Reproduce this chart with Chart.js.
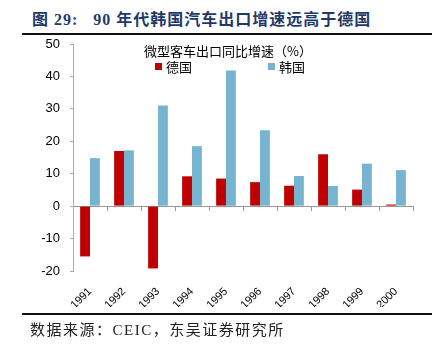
<!DOCTYPE html>
<html>
<head>
<meta charset="utf-8">
<script src="https://cdn.jsdelivr.net/npm/chart.js@4/dist/chart.umd.min.js"></script>
<style>
  body { margin: 0; background: #fff; }
  #wrap { position: relative; width: 437px; height: 348px; }
  #title {
    position: absolute; left: 32px; top: 6px;
    font: bold 16px "Liberation Serif", "Noto Sans CJK SC", serif;
    color: #1f3a68; letter-spacing: 1px; white-space: nowrap;
  }
  .rule { position: absolute; left: 22px; width: 410px; height: 2px; background: #111; }
  #source {
    position: absolute; left: 30px; top: 318px;
    font: 15px "Liberation Serif", "Noto Sans CJK SC", serif;
    color: #222; letter-spacing: 1.5px; white-space: nowrap;
  }
  #box { position: absolute; left: 0; top: 0; width: 437px; height: 348px; }
</style>
</head>
<body>
<div id="wrap">
  <div id="title">图 29:&nbsp;&nbsp; 90 年代韩国汽车出口增速远高于德国</div>
  <div class="rule" style="top:33px"></div>
  <div id="box"><canvas id="canvas"></canvas></div>
  <div class="rule" style="top:313px"></div>
  <div id="source">数据来源：CEIC，东吴证券研究所</div>
</div>
<script>
// yearly growth of light passenger car exports, %
let years = ['1991', '1992', '1993', '1994', '1995', '1996', '1997', '1998', '1999', '2000'];
let germany = [-15.5, 17.0, -19.2, 9.2, 8.5, 7.4, 6.3, 16.0, 5.1, 0.5];
let korea = [14.8, 17.2, 31.0, 18.5, 41.8, 23.4, 9.3, 6.2, 13.1, 11.1];
let legendTitle = '微型客车出口同比增速（%）';

// legend drawn inside the plot, under its title
let innerLegend = {
  id: 'innerLegend',
  afterDraw(chart) {
    let ctx = chart.ctx;
    ctx.save();
    ctx.fillStyle = '#000';
    ctx.font = '13px "Noto Sans CJK SC", serif';
    ctx.textBaseline = 'middle';
    ctx.textAlign = 'center';
    ctx.fillText(legendTitle, 228, 51);
    ctx.textAlign = 'left';
    let xs = [155, 268];
    chart.data.datasets.forEach(function(ds, i) {
      ctx.fillStyle = ds.backgroundColor;
      ctx.fillRect(xs[i], 63, 7, 7);
      ctx.fillStyle = '#000';
      ctx.fillText(ds.label, xs[i] + 11, 67);
    });
    ctx.restore();
  }
};

let options = {
  type: 'bar',
  data: {
    labels: years,
    datasets: [{
      label: '德国',
      data: germany,
      backgroundColor: '#c00000',
      categoryPercentage: 0.58,
      barPercentage: 1.0
    }, {
      label: '韩国',
      data: korea,
      backgroundColor: '#76b4cf',
      categoryPercentage: 0.58,
      barPercentage: 1.0
    }]
  },
  options: {
    responsive: true,
    maintainAspectRatio: false,
    animation: false,
    layout: { padding: { left: 0, right: 24, top: 44, bottom: 41 } },
    plugins: {
      legend: { display: false },
      tooltip: { enabled: false }
    },
    scales: {
      x: {
        position: { y: 0 },
        grid: { drawOnChartArea: false, drawTicks: true, tickLength: 4, color: '#999' },
        border: { color: '#999' },
        ticks: { display: false }
      },
      x2: {
        type: 'category',
        labels: years,
        position: 'bottom',
        offset: true,
        grid: { display: false },
        border: { display: false },
        ticks: {
          color: '#000',
          font: { family: '"Liberation Sans", Arial', size: 11 },
          minRotation: 45, maxRotation: 45, padding: 6
        },
        afterFit: function(scale) { scale.height = 36; }
      },
      y: {
        min: -20, max: 50,
        grid: { drawOnChartArea: false, drawTicks: true, tickLength: 3, color: '#aaa' },
        border: { color: '#aaa' },
        ticks: {
          stepSize: 10, color: '#000', padding: 10,
          font: { family: '"Liberation Sans", Arial', size: 13 }
        },
        afterFit: function(scale) { scale.width = 73; }
      }
    }
  },
  plugins: [innerLegend]
};

let chart = new Chart(document.getElementById('canvas'), options);
</script>
</body>
</html>
